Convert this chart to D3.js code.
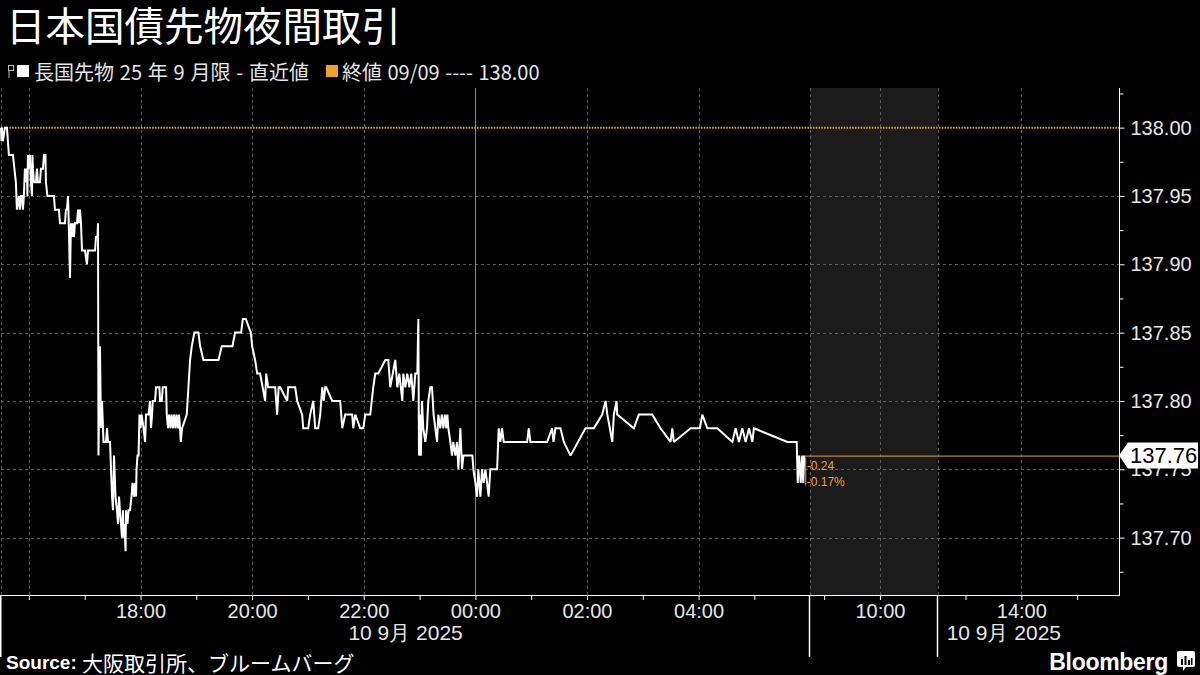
<!DOCTYPE html>
<html><head><meta charset="utf-8">
<script src="https://cdn.jsdelivr.net/npm/d3@7"></script>
<style>
body{margin:0;background:#000;}
svg{display:block;}
</style></head><body>
<svg id="c" width="1200" height="675"></svg>
<script>
// ---------------- DATA ----------------
const title = "日本国債先物夜間取引";
const seriesName = "長国先物 25 年 9 月限 - 直近値";
const refName = "終値 09/09 ---- 138.00";
const refValue = 138.00;
const lastValue = 137.76;
const changeLabels = ["-0.24", "-0.17%"];
const dateLabel = "10 9月 2025";
const sourceText = "大阪取引所、ブルームバーグ";
// trading sessions (start, end)
const sessions = [
  ["2025-09-09T15:30", "2025-09-10T06:00"],
  ["2025-09-10T08:45", "2025-09-10T11:02"],
  ["2025-09-10T12:30", "2025-09-10T15:45"]
];
const shadedSession = 1;
const midnight = "2025-09-10T00:00";
// minutes after 2025-09-09 15:30
const minutes = [0,0.5,1.0,2.0,4.2,6.4,8.5,12.8,16.0,17.1,19.3,20.3,21.4,22.5,23.6,24.6,25.7,26.8,27.9,28.4,28.9,30.0,31.1,32.2,33.3,33.8,34.3,35.4,37.6,38.6,39.7,41.9,42.9,45.1,46.2,47.8,48.3,49.9,56.9,58.0,62.3,63.4,68.8,69.8,70.9,72.0,72.5,74.2,75.2,76.3,77.4,78.5,79.5,81.7,82.8,83.8,84.9,86.0,87.1,90.3,92.4,93.5,101.1,102.1,103.7,104.3,104.8,106.4,107.5,108.6,109.7,110.2,112.9,114.0,115.0,117.2,118.3,119.4,120.4,121.5,123.1,124.7,125.8,126.9,127.9,129.0,130.1,131.2,131.7,132.8,133.9,134.4,136.0,137.1,138.7,140.3,141.4,143.0,144.1,145.2,145.7,146.8,147.9,148.9,150.0,151.1,153.3,154.9,155.9,158.6,160.2,161.3,162.4,163.2,165.6,166.7,170.3,171.0,172.8,173.9,177.5,178.2,179.6,180.7,182.3,183.4,185.0,186.1,187.7,188.8,190.4,191.5,192.5,193.3,194.7,199.7,201.5,203.3,205.1,207.9,212.2,214.1,217.6,233.8,237.4,248.8,251.7,258.2,260.0,263.2,268.6,270.0,273.2,275.4,278.6,284.0,285.1,287.2,294.8,296.9,298.5,300.2,307.7,308.8,316.3,318.4,323.8,324.9,330.3,332.4,335.7,337.8,341.0,343.2,345.4,347.0,348.6,349.7,356.1,364.7,366.9,370.1,377.6,378.7,380.9,386.2,389.5,391.6,397.0,400.2,402.4,405.6,413.2,416.4,418.5,423.9,426.1,428.2,431.5,432.5,434.7,436.8,439.0,441.1,443.3,445.4,447.6,448.7,449.4,450.5,451.4,452.6,454.0,456.2,458.0,459.4,461.6,463.4,465.1,467.0,468.8,470.2,472.3,473.9,475.6,477.2,478.8,479.9,481.0,483.1,484.9,486.3,488.5,490.3,491.7,493.9,495.7,497.1,506.8,507.9,510.0,511.8,513.2,515.4,517.2,518.9,520.8,522.6,524.3,526.1,533.4,535.1,536.9,538.7,540.5,565.7,567.4,569.2,587.2,592.5,594.0,596.1,601.5,605.1,612.3,628.4,637.4,646.4,650.0,651.9,654.6,657.2,658.9,661.8,662.5,680.4,685.8,700.2,709.1,719.9,721.7,723.4,741.4,751.4,754.0,759.4,770.1,786.3,789.8,793.4,797.0,800.6,804.2,807.8,809.5,845.5,855.5,856.6,858.2,859.8,861.4,862.5,863.6];
const prices = [138.00,137.99,138.00,137.99,138.00,138.00,137.98,137.98,137.96,137.94,137.95,137.94,137.95,137.95,137.94,137.95,137.97,137.96,137.97,137.95,137.98,137.97,137.98,137.96,137.95,137.98,137.97,137.96,137.96,137.97,137.96,137.96,137.97,137.97,137.98,137.98,137.96,137.95,137.95,137.94,137.94,137.93,137.93,137.94,137.94,137.95,137.94,137.89,137.93,137.92,137.93,137.92,137.93,137.93,137.94,137.93,137.94,137.93,137.91,137.91,137.90,137.91,137.91,137.92,137.92,137.93,137.76,137.84,137.78,137.80,137.78,137.77,137.77,137.78,137.77,137.77,137.75,137.73,137.72,137.76,137.73,137.72,137.71,137.73,137.72,137.71,137.70,137.72,137.70,137.71,137.69,137.72,137.71,137.72,137.72,137.73,137.74,137.73,137.74,137.73,137.75,137.76,137.76,137.79,137.78,137.79,137.78,137.77,137.79,137.79,137.80,137.78,137.79,137.80,137.80,137.81,137.81,137.80,137.80,137.81,137.81,137.79,137.78,137.79,137.78,137.79,137.78,137.79,137.78,137.79,137.78,137.79,137.78,137.77,137.78,137.79,137.81,137.83,137.84,137.85,137.85,137.84,137.83,137.83,137.84,137.84,137.85,137.85,137.86,137.86,137.85,137.84,137.83,137.82,137.82,137.80,137.82,137.81,137.81,137.79,137.81,137.81,137.80,137.81,137.81,137.80,137.79,137.78,137.78,137.79,137.80,137.78,137.78,137.79,137.81,137.80,137.81,137.81,137.80,137.80,137.78,137.79,137.79,137.78,137.79,137.78,137.78,137.79,137.79,137.81,137.82,137.82,137.83,137.83,137.81,137.83,137.81,137.82,137.80,137.82,137.81,137.82,137.81,137.82,137.80,137.82,137.82,137.86,137.76,137.79,137.76,137.80,137.78,137.77,137.78,137.80,137.81,137.81,137.79,137.78,137.77,137.79,137.78,137.79,137.78,137.79,137.78,137.79,137.78,137.77,137.76,137.77,137.76,137.77,137.75,137.78,137.75,137.76,137.76,137.75,137.74,137.73,137.75,137.73,137.75,137.74,137.75,137.74,137.73,137.75,137.75,137.78,137.77,137.78,137.77,137.77,137.78,137.77,137.77,137.78,137.77,137.78,137.78,137.77,137.76,137.78,137.78,137.79,137.80,137.79,137.78,137.77,137.79,137.80,137.79,137.78,137.79,137.79,137.78,137.77,137.78,137.77,137.78,137.78,137.79,137.78,137.78,137.77,137.78,137.77,137.78,137.77,137.78,137.77,137.78,137.77,137.77,137.74,137.76,137.74,137.76,137.74,137.76];
const yTicks = [137.70, 137.75, 137.80, 137.85, 137.90, 137.95, 138.00];
const yMinorTicks = [137.675, 137.725, 137.775, 137.825, 137.875, 137.925, 137.975, 138.025];
const yDomain = [137.658, 138.029];
const xLabelTicks = ["2025-09-09T18:00","2025-09-09T20:00","2025-09-09T22:00","2025-09-10T00:00","2025-09-10T02:00","2025-09-10T04:00","2025-09-10T10:00","2025-09-10T14:00"];
const xGridTicks = ["2025-09-09T16:00","2025-09-09T18:00","2025-09-09T20:00","2025-09-09T22:00","2025-09-10T02:00","2025-09-10T04:00","2025-09-10T10:00","2025-09-10T14:00"];
const xMinorTicks = ["2025-09-09T16:00","2025-09-09T17:00","2025-09-09T19:00","2025-09-09T21:00","2025-09-09T23:00","2025-09-10T01:00","2025-09-10T03:00","2025-09-10T05:00","2025-09-10T09:00","2025-09-10T13:00","2025-09-10T15:00"];

// ---------------- CHART ----------------
(function () {
const parse = d3.timeParse("%Y-%m-%dT%H:%M");
const base = parse(sessions[0][0]);
const data = minutes.map((m, i) => ({t: new Date(base.getTime() + m * 60000), v: prices[i]}));

const W = 1200, H = 675;
const pL = 1, pR = 1119, pT = 88, pB = 595;
const ORANGE = "#f0a030", GRID = "#5c5c5c", TXT = "#e6e6e6";
const LAT = "'Liberation Sans', Arial, sans-serif";
const CJK = "'Noto Sans CJK JP', sans-serif";

// piecewise time scale compressing gaps between sessions
const sess = sessions.map(s => s.map(parse));
const totalMin = d3.sum(sess, s => (s[1] - s[0]) / 60000);
const pxPerMin = (pR - pL) / totalMin;
const dom = [], rng = [];
let acc = pL;
sess.forEach(s => {
  dom.push(s[0]); rng.push(acc);
  acc += (s[1] - s[0]) / 60000 * pxPerMin;
  dom.push(s[1]); rng.push(acc);
});
const x = d3.scaleTime().domain(dom).range(rng);
const y = d3.scaleLinear().domain(yDomain).range([pB, pT]);

const svg = d3.select("#c");
svg.append("rect").attr("width", W).attr("height", H).attr("fill", "#000");

// shaded session
const sh = sess[shadedSession];
svg.append("rect").attr("x", x(sh[0])).attr("y", pT)
  .attr("width", x(sh[1]) - x(sh[0])).attr("height", pB - pT).attr("fill", "#1b1b1b");

// horizontal grid
svg.append("g").selectAll("line").data(yTicks.filter(v => v !== refValue)).join("line")
  .attr("x1", pL).attr("x2", pR).attr("y1", d => Math.round(y(d)) + 0.5).attr("y2", d => Math.round(y(d)) + 0.5)
  .attr("stroke", GRID).attr("stroke-dasharray", "3,3").attr("stroke-width", 1);

// vertical grid
const vgrid = xGridTicks.map(parse).concat([sess[0][0], sess[0][1], sess[1][1]]);
svg.append("g").selectAll("line").data(vgrid).join("line")
  .attr("x1", d => Math.round(x(d)) + 0.5).attr("x2", d => Math.round(x(d)) + 0.5)
  .attr("y1", pT).attr("y2", pB)
  .attr("stroke", GRID).attr("stroke-dasharray", "3,3");
// midnight line
const mx = Math.round(x(parse(midnight))) + 0.5;
svg.append("line").attr("x1", mx).attr("x2", mx)
  .attr("y1", pT).attr("y2", pB).attr("stroke", "#8a8a8a").attr("stroke-width", 1);

// reference dotted line
svg.append("line").attr("x1", pL).attr("x2", pR).attr("y1", y(refValue)).attr("y2", y(refValue))
  .attr("stroke", ORANGE).attr("stroke-width", 2).attr("stroke-dasharray", "1.5,1.3");

// series line
const line = d3.line().x(d => x(d.t)).y(d => y(d.v));
svg.append("path").datum(data).attr("d", line).attr("fill", "none")
  .attr("stroke", "#fff").attr("stroke-width", 2).attr("stroke-linejoin", "miter").attr("stroke-miterlimit", 2);

// current value line
const last = data[data.length - 1];
svg.append("line").attr("x1", x(last.t)).attr("x2", pR).attr("y1", y(lastValue) + 0.5).attr("y2", y(lastValue) + 0.5)
  .attr("stroke", ORANGE).attr("stroke-width", 1);

// change annotations
const ax = x(last.t) + 1.5;
svg.append("line").attr("x1", ax).attr("x2", ax).attr("y1", y(lastValue) + 2).attr("y2", y(lastValue) + 30)
  .attr("stroke", ORANGE).attr("stroke-width", 1);
svg.append("g").selectAll("text").data(changeLabels).join("text")
  .attr("x", ax + 1).attr("y", (d, i) => y(lastValue) + 10 + i * 16)
  .attr("dominant-baseline", "central")
  .attr("fill", ORANGE).attr("font-family", LAT).attr("font-size", 12)
  .text(d => d);

// x axis
const xAxisG = svg.append("g").attr("transform", `translate(0,${pB})`);
xAxisG.call(d3.axisBottom(x).tickValues(xLabelTicks.map(parse)).tickFormat(d3.timeFormat("%H:%M")).tickSize(5).tickPadding(4))
  .call(g => g.select(".domain").remove())
  .call(g => g.selectAll(".tick line").attr("stroke", "#fff"))
  .call(g => g.selectAll(".tick text").attr("fill", TXT).attr("font-size", 20).attr("font-family", LAT));
xAxisG.append("line").attr("x1", 0).attr("x2", pR + 0.5).attr("y1", 0.5).attr("y2", 0.5).attr("stroke", "#fff");
svg.append("g").attr("transform", `translate(0,${pB})`)
  .call(d3.axisBottom(x).tickValues(xMinorTicks.map(parse)).tickFormat("").tickSize(5))
  .call(g => g.select(".domain").remove())
  .call(g => g.selectAll(".tick line").attr("stroke", "#fff"));
// session separators
svg.append("g").selectAll("line").data(sess.map(s => s[0])).join("line")
  .attr("x1", d => Math.max(0.75, Math.round(x(d)) - 0.5)).attr("x2", d => Math.max(0.75, Math.round(x(d)) - 0.5))
  .attr("y1", pB).attr("y2", 657).attr("stroke", "#fff").attr("stroke-width", 1.5);
// date labels
const dl = svg.append("g").attr("fill", TXT).attr("font-size", 21).attr("font-family", LAT);
dl.append("text").attr("x", (x(sess[0][0]) + x(sess[0][1])) / 2).attr("y", 640)
  .attr("text-anchor", "middle").text(dateLabel);
dl.append("text").attr("x", x(sess[2][0]) + 9).attr("y", 640)
  .attr("text-anchor", "start").text(dateLabel);

// y axis
const yAxisG = svg.append("g").attr("transform", `translate(${pR + 0.5},0)`);
yAxisG.call(d3.axisRight(y).tickValues(yTicks).tickFormat(d3.format(".2f")).tickSize(5).tickPadding(6))
  .call(g => g.select(".domain").remove())
  .call(g => g.selectAll(".tick line").attr("stroke", "#fff"))
  .call(g => g.selectAll(".tick text").attr("fill", TXT).attr("font-size", 20).attr("font-family", LAT));
yAxisG.append("g").call(d3.axisRight(y).tickValues(yMinorTicks).tickFormat("").tickSize(4))
  .call(g => g.select(".domain").remove())
  .call(g => g.selectAll(".tick line").attr("stroke", "#fff"));
yAxisG.append("line").attr("x1", 0).attr("x2", 0).attr("y1", pT).attr("y2", pB + 1).attr("stroke", "#fff");

// current value tag
const ty = y(lastValue);
const tag = svg.append("g");
tag.append("path").attr("d", `M${pR},${ty} L${pR + 9},${ty - 13} L${W - 2},${ty - 13} L${W - 2},${ty + 13} L${pR + 9},${ty + 13} Z`)
  .attr("fill", "#fff");
tag.append("text").attr("x", pR + 11).attr("y", ty).attr("dominant-baseline", "central")
  .attr("fill", "#000").attr("font-size", 22).attr("font-family", LAT)
  .text(d3.format(".2f")(lastValue));

// title
svg.append("text").attr("x", 6).attr("y", 41).attr("fill", "#fff")
  .attr("font-size", 39.5).attr("font-family", CJK).text(title);

// legend
const lg = svg.append("g").attr("font-family", CJK).attr("font-size", 20).attr("fill", TXT);
lg.append("rect").attr("x", 8.5).attr("y", 65.5).attr("width", 5).attr("height", 5).attr("fill", "none").attr("stroke", "#bbb");
lg.append("line").attr("x1", 9).attr("x2", 9).attr("y1", 70).attr("y2", 78).attr("stroke", "#bbb");
lg.append("rect").attr("x", 17).attr("y", 65).attr("width", 12).attr("height", 12).attr("fill", "#fff");
lg.append("text").attr("x", 34).attr("y", 71).attr("dominant-baseline", "central")
  .attr("word-spacing", 1.3).text(seriesName);
lg.append("rect").attr("x", 326).attr("y", 65).attr("width", 12).attr("height", 12).attr("fill", ORANGE);
lg.append("text").attr("x", 342).attr("y", 71).attr("dominant-baseline", "central")
  .attr("word-spacing", 1).text(refName);

// source
const src = svg.append("text").attr("x", 6).attr("y", 662).attr("dominant-baseline", "central")
  .attr("fill", "#fff").attr("font-size", 20);
src.append("tspan").attr("font-family", LAT).attr("font-weight", "bold").attr("font-size", 19).text("Source: ");
src.append("tspan").attr("font-family", CJK).attr("font-size", 21).text(sourceText);

// Bloomberg logo
svg.append("text").attr("x", 1168).attr("y", 662).attr("dominant-baseline", "central").attr("text-anchor", "end")
  .attr("fill", "#fff").attr("font-size", 23).attr("font-weight", "bold")
  .attr("font-family", LAT).attr("letter-spacing", -0.3).text("Bloomberg");
const logo = svg.append("g").attr("transform", "translate(1177,651)");
logo.append("path").attr("d", "M2,0 H16 Q18,0 18,2 V14 Q18,16 16,16 H9 L6,20 L6,16 H2 Q0,16 0,14 V2 Q0,0 2,0 Z").attr("fill", "#fff");
[[4,8,2,6],[7.5,5,2,9],[11,9,2,5],[14,7,1.5,7]].forEach(b =>
  logo.append("rect").attr("x", b[0]).attr("y", b[1]).attr("width", b[2]).attr("height", b[3]).attr("fill", "#000"));
})();
</script>
</body></html>
